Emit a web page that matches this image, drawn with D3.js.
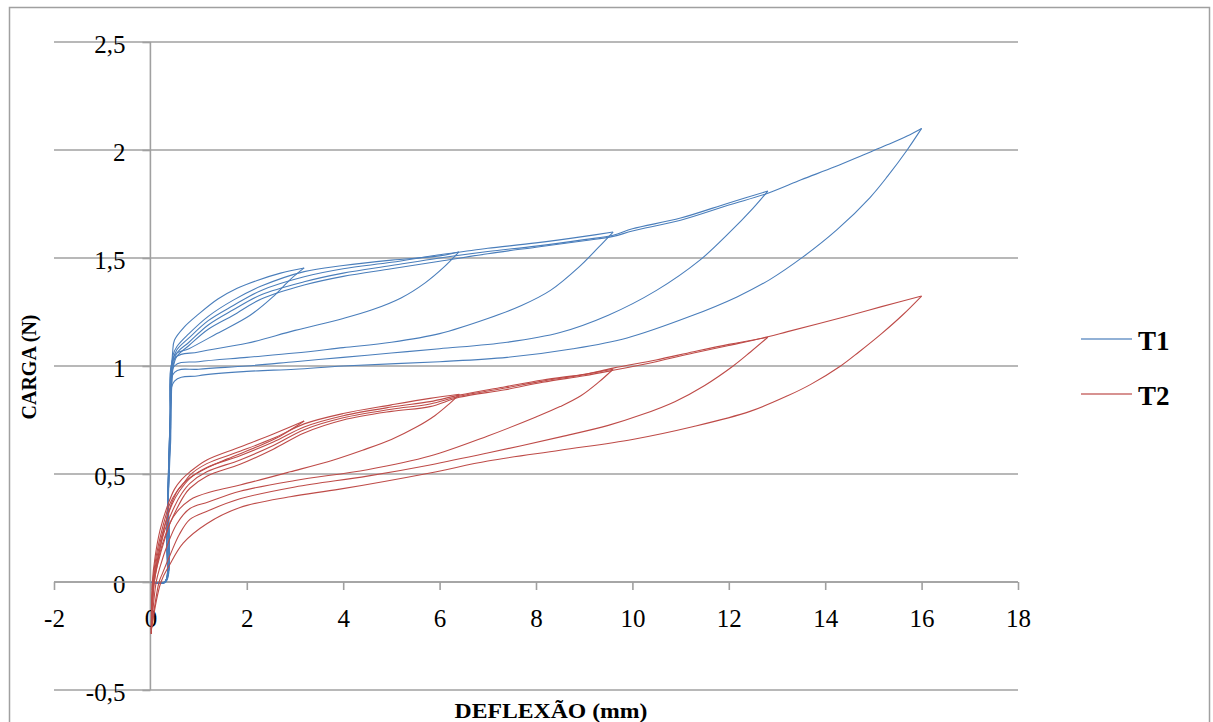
<!DOCTYPE html>
<html>
<head>
<meta charset="utf-8">
<script src="https://cdn.jsdelivr.net/npm/d3@7"></script>
<style>
  body { margin: 0; background: #fff; }
  svg { display: block; }
</style>
</head>
<body>
<div id="chart"></div>
<script>
// ticks
var xTicks = [-2, 0, 2, 4, 6, 8, 10, 12, 14, 16, 18];
var yTicks = [-0.5, 0, 0.5, 1, 1.5, 2, 2.5];

// T1 (blue) - loading / unloading cycles, [deflexao mm, carga N]
var t1Load1 = [[0,0],[0.3,0],[0.36,0.4],[0.42,0.85],[0.46,1.06],[0.5,1.12],[0.7,1.18],[1.0,1.24],[1.4,1.31],[1.8,1.36],[2.2,1.395],[2.7,1.43],[3.19,1.454]];
var t1Unload1 = [[3.19,1.454],[2.9,1.40],[2.54,1.32],[2.07,1.235],[1.38,1.15],[0.8,1.08],[0.5,1.05],[0.42,0.8],[0.35,0.3],[0.32,0],[0.05,0]];
var t1Load2 = [[0.05,0],[0.3,0],[0.37,0.45],[0.43,0.9],[0.47,1.05],[0.55,1.09],[0.8,1.15],[1.2,1.23],[1.72,1.305],[2.3,1.37],[3.19,1.437],[4.0,1.465],[5.0,1.49],[6.0,1.51],[6.4,1.528]];
var t1Unload2 = [[6.4,1.528],[6.1,1.46],[5.7,1.385],[5.2,1.315],[4.6,1.26],[4.0,1.22],[3.0,1.165],[2.0,1.105],[1.0,1.065],[0.5,1.035],[0.42,0.75],[0.34,0.25],[0.3,0],[0.05,0]];
var t1Load3 = [[0.05,0],[0.3,0],[0.37,0.45],[0.43,0.88],[0.47,1.03],[0.55,1.075],[0.8,1.13],[1.2,1.21],[1.72,1.28],[2.3,1.35],[3.19,1.413],[4.0,1.45],[5.0,1.48],[6.0,1.515],[6.5,1.53],[7.0,1.545],[8.0,1.57],[9.0,1.60],[9.6,1.62]];
var t1Unload3 = [[9.6,1.62],[9.3,1.55],[8.9,1.46],[8.3,1.35],[7.7,1.28],[7.0,1.22],[6.0,1.15],[5.0,1.11],[4.0,1.085],[3.0,1.06],[2.0,1.04],[1.0,1.02],[0.5,1.0],[0.42,0.72],[0.34,0.22],[0.3,0],[0.05,0]];
var t1Load4 = [[0.05,0],[0.3,0],[0.37,0.4],[0.43,0.85],[0.47,1.0],[0.55,1.06],[0.8,1.11],[1.2,1.19],[1.72,1.26],[2.3,1.33],[3.19,1.39],[4.0,1.43],[5.0,1.465],[6.0,1.50],[7.0,1.53],[8.0,1.555],[9.0,1.585],[9.6,1.605],[10.0,1.635],[11.0,1.685],[12.0,1.755],[12.81,1.81]];
var t1Unload4 = [[12.81,1.81],[12.5,1.73],[12.0,1.615],[11.4,1.49],[10.5,1.35],[9.5,1.235],[8.5,1.155],[7.4,1.11],[6.0,1.08],[5.0,1.06],[4.0,1.04],[3.0,1.02],[2.0,1.0],[1.0,0.985],[0.5,0.97],[0.42,0.7],[0.34,0.2],[0.3,0],[0.05,0]];
var t1Load5 = [[0.05,0],[0.3,0],[0.37,0.4],[0.43,0.82],[0.47,0.99],[0.55,1.045],[0.8,1.095],[1.2,1.17],[1.72,1.235],[2.3,1.31],[3.19,1.375],[4.0,1.415],[5.0,1.45],[6.0,1.485],[7.0,1.52],[8.0,1.55],[9.0,1.58],[9.6,1.60],[10.0,1.625],[11.0,1.675],[12.0,1.745],[12.81,1.80],[13.5,1.862],[14.2,1.922],[14.8,1.978],[15.3,2.025],[15.7,2.065],[16.0,2.10]];
var t1Unload5 = [[16.0,2.10],[15.7,2.0],[15.3,1.88],[14.93,1.78],[14.24,1.63],[13.54,1.505],[12.85,1.40],[12.17,1.32],[11.2,1.23],[9.89,1.13],[8.77,1.08],[7.4,1.04],[6.0,1.02],[4.0,1.0],[3.0,0.985],[2.0,0.975],[1.0,0.955],[0.5,0.93],[0.42,0.65],[0.34,0.2],[0.3,0],[0.05,0]];

// T2 (red)
var t2Load1 = [[0.02,-0.24],[0.04,0],[0.1,0.12],[0.2,0.24],[0.35,0.35],[0.5,0.43],[0.65,0.475],[0.82,0.51],[1.17,0.565],[1.86,0.625],[2.55,0.685],[3.19,0.745]];
var t2Unload1 = [[3.19,0.745],[2.69,0.675],[2.2,0.625],[1.6,0.57],[1.1,0.52],[0.8,0.48],[0.6,0.435],[0.45,0.37],[0.3,0.26],[0.15,0.1],[0.06,0],[0.02,-0.22]];
var t2Load2 = [[0.02,-0.24],[0.05,0],[0.12,0.12],[0.25,0.25],[0.4,0.36],[0.55,0.42],[0.7,0.46],[0.82,0.495],[1.17,0.548],[1.86,0.605],[2.55,0.665],[3.19,0.732],[4.0,0.78],[5.0,0.82],[5.8,0.85],[6.41,0.869]];
var t2Unload2 = [[6.41,0.869],[6.2,0.825],[5.9,0.77],[5.5,0.715],[5.0,0.66],[4.4,0.61],[3.8,0.565],[2.9,0.51],[1.86,0.449],[1.3,0.42],[0.82,0.38],[0.47,0.3],[0.3,0.2],[0.15,0.08],[0.08,0],[0.02,-0.22]];
var t2Load3 = [[0.02,-0.24],[0.06,0],[0.14,0.12],[0.28,0.25],[0.45,0.36],[0.6,0.42],[0.82,0.48],[1.17,0.53],[1.86,0.585],[2.55,0.648],[3.19,0.718],[4.0,0.77],[5.0,0.81],[5.8,0.835],[6.41,0.865],[7.36,0.904],[8.14,0.935],[9.0,0.962],[9.6,0.985]];
var t2Unload3 = [[9.6,0.985],[9.3,0.925],[8.93,0.862],[8.5,0.812],[8.0,0.764],[7.0,0.676],[5.8,0.583],[4.5,0.52],[3.0,0.47],[1.86,0.42],[1.2,0.37],[0.82,0.34],[0.55,0.27],[0.35,0.17],[0.2,0.07],[0.12,0],[0.02,-0.22]];
var t2Load4 = [[0.02,-0.24],[0.07,0],[0.16,0.12],[0.3,0.24],[0.5,0.35],[0.65,0.41],[0.82,0.457],[1.17,0.51],[1.86,0.565],[2.55,0.632],[3.19,0.705],[4.0,0.76],[5.0,0.80],[5.8,0.824],[6.41,0.86],[7.36,0.898],[8.14,0.93],[9.0,0.96],[9.6,0.99],[10.49,1.028],[11.27,1.066],[12.0,1.1],[12.81,1.133]];
var t2Unload4 = [[12.81,1.133],[12.45,1.065],[12.09,1.0],[11.5,0.91],[10.88,0.835],[10.2,0.775],[9.5,0.725],[8.53,0.673],[6.97,0.596],[5.8,0.542],[4.5,0.49],[3.0,0.44],[1.86,0.385],[1.2,0.33],[0.82,0.29],[0.6,0.22],[0.4,0.12],[0.25,0.04],[0.18,0],[0.02,-0.22]];
var t2Load5 = [[0.02,-0.24],[0.08,0],[0.18,0.12],[0.33,0.23],[0.55,0.34],[0.7,0.4],[0.82,0.434],[1.17,0.49],[1.86,0.545],[2.55,0.615],[3.19,0.69],[4.0,0.75],[5.0,0.79],[5.8,0.812],[6.41,0.855],[7.36,0.89],[8.14,0.925],[9.0,0.955],[9.6,0.98],[10.49,1.02],[11.27,1.06],[12.0,1.095],[12.81,1.135],[13.22,1.159],[14.39,1.227],[15.17,1.275],[16.0,1.324]];
var t2Unload5 = [[16.0,1.324],[15.6,1.235],[15.17,1.15],[14.7,1.065],[14.32,1.0],[13.7,0.915],[13.22,0.862],[12.44,0.79],[11.27,0.72],[10.0,0.66],[8.5,0.61],[7.0,0.56],[5.8,0.505],[3.93,0.43],[2.9,0.395],[1.86,0.345],[1.17,0.27],[0.68,0.18],[0.4,0.08],[0.22,0],[0.02,-0.22]];

var series = [
  { name: "T1", color: "#4a7ebb", curves: [t1Load1, t1Unload1, t1Load2, t1Unload2, t1Load3, t1Unload3, t1Load4, t1Unload4, t1Load5, t1Unload5] },
  { name: "T2", color: "#be4b48", curves: [t2Load1, t2Unload1, t2Load2, t2Unload2, t2Load3, t2Unload3, t2Load4, t2Unload4, t2Load5, t2Unload5] }
];

var width = 1213, height = 722;
var gridColor = "#a0a0a0";
var fmt = function (d) { return String(d).replace(".", ","); };

var svg = d3.select("#chart").append("svg")
  .attr("width", width)
  .attr("height", height);

// outer chart border
svg.append("rect")
  .attr("x", 9.5).attr("y", 7.5)
  .attr("width", 1200).attr("height", 730)
  .attr("fill", "none")
  .attr("stroke", gridColor)
  .attr("stroke-width", 1.5);

var x = d3.scaleLinear().domain([-2, 18]).range([54, 1018]);
var y = d3.scaleLinear().domain([-0.5, 2.5]).range([690, 42]);

// horizontal gridlines
svg.append("g").selectAll("line")
  .data(yTicks)
  .enter().append("line")
  .attr("x1", x(-2)).attr("x2", x(18))
  .attr("y1", function (d) { return y(d); })
  .attr("y2", function (d) { return y(d); })
  .attr("stroke", gridColor)
  .attr("stroke-width", 1.6);

// y axis at x = 0
var yAxis = svg.append("g")
  .attr("transform", "translate(" + x(0) + ",0)")
  .call(d3.axisLeft(y).tickValues(yTicks).tickSize(8).tickPadding(17).tickFormat(fmt));

// x axis at y = 0
var xAxis = svg.append("g")
  .attr("transform", "translate(0," + y(0) + ")")
  .call(d3.axisBottom(x).tickValues(xTicks).tickSize(8).tickPadding(19).tickFormat(fmt).tickSizeOuter(0));

[yAxis, xAxis].forEach(function (a) {
  a.select(".domain").attr("stroke", gridColor).attr("stroke-width", 1.6);
  a.selectAll(".tick line").attr("stroke", gridColor).attr("stroke-width", 1.6);
  a.selectAll(".tick text")
    .attr("fill", "#000")
    .style("font-family", "'Liberation Serif', serif")
    .style("font-size", "25px");
});
yAxis.selectAll(".tick text").attr("dy", "0.42em");
yAxis.select(".domain").attr("d", "M0," + y(-0.5) + "V" + y(2.5));
xAxis.select(".domain").attr("d", "M" + x(-2) + ",0H" + x(18));

// data curves
var line = d3.line()
  .x(function (d) { return x(d[0]); })
  .y(function (d) { return y(d[1]); })
  .curve(d3.curveCatmullRom.alpha(0.5));

series.forEach(function (s) {
  svg.append("g").selectAll("path")
    .data(s.curves)
    .enter().append("path")
    .attr("d", line)
    .attr("fill", "none")
    .attr("stroke", s.color)
    .attr("stroke-width", 1.1);
});

// axis titles
svg.append("text")
  .attr("x", 551).attr("y", 718)
  .attr("text-anchor", "middle")
  .attr("textLength", 193)
  .attr("lengthAdjust", "spacingAndGlyphs")
  .style("font-family", "'Liberation Serif', serif")
  .style("font-weight", "bold")
  .style("font-size", "21px")
  .text("DEFLEXÃO (mm)");

svg.append("text")
  .attr("transform", "translate(36,367) rotate(-90)")
  .attr("text-anchor", "middle")
  .style("font-family", "'Liberation Serif', serif")
  .style("font-weight", "bold")
  .style("font-size", "20px")
  .text("CARGA (N)");

// legend
var legend = svg.append("g").selectAll("g")
  .data(series)
  .enter().append("g")
  .attr("transform", function (d, i) { return "translate(1081," + (339 + i * 55) + ")"; });

legend.append("line")
  .attr("x1", 0).attr("x2", 51)
  .attr("stroke", function (d) { return d.color; })
  .attr("stroke-width", 1.5)
  .attr("opacity", 0.8);

legend.append("text")
  .attr("x", 57).attr("y", 11)
  .style("font-family", "'Liberation Serif', serif")
  .style("font-weight", "bold")
  .style("font-size", "27px")
  .text(function (d) { return d.name; });
</script>
</body>
</html>
